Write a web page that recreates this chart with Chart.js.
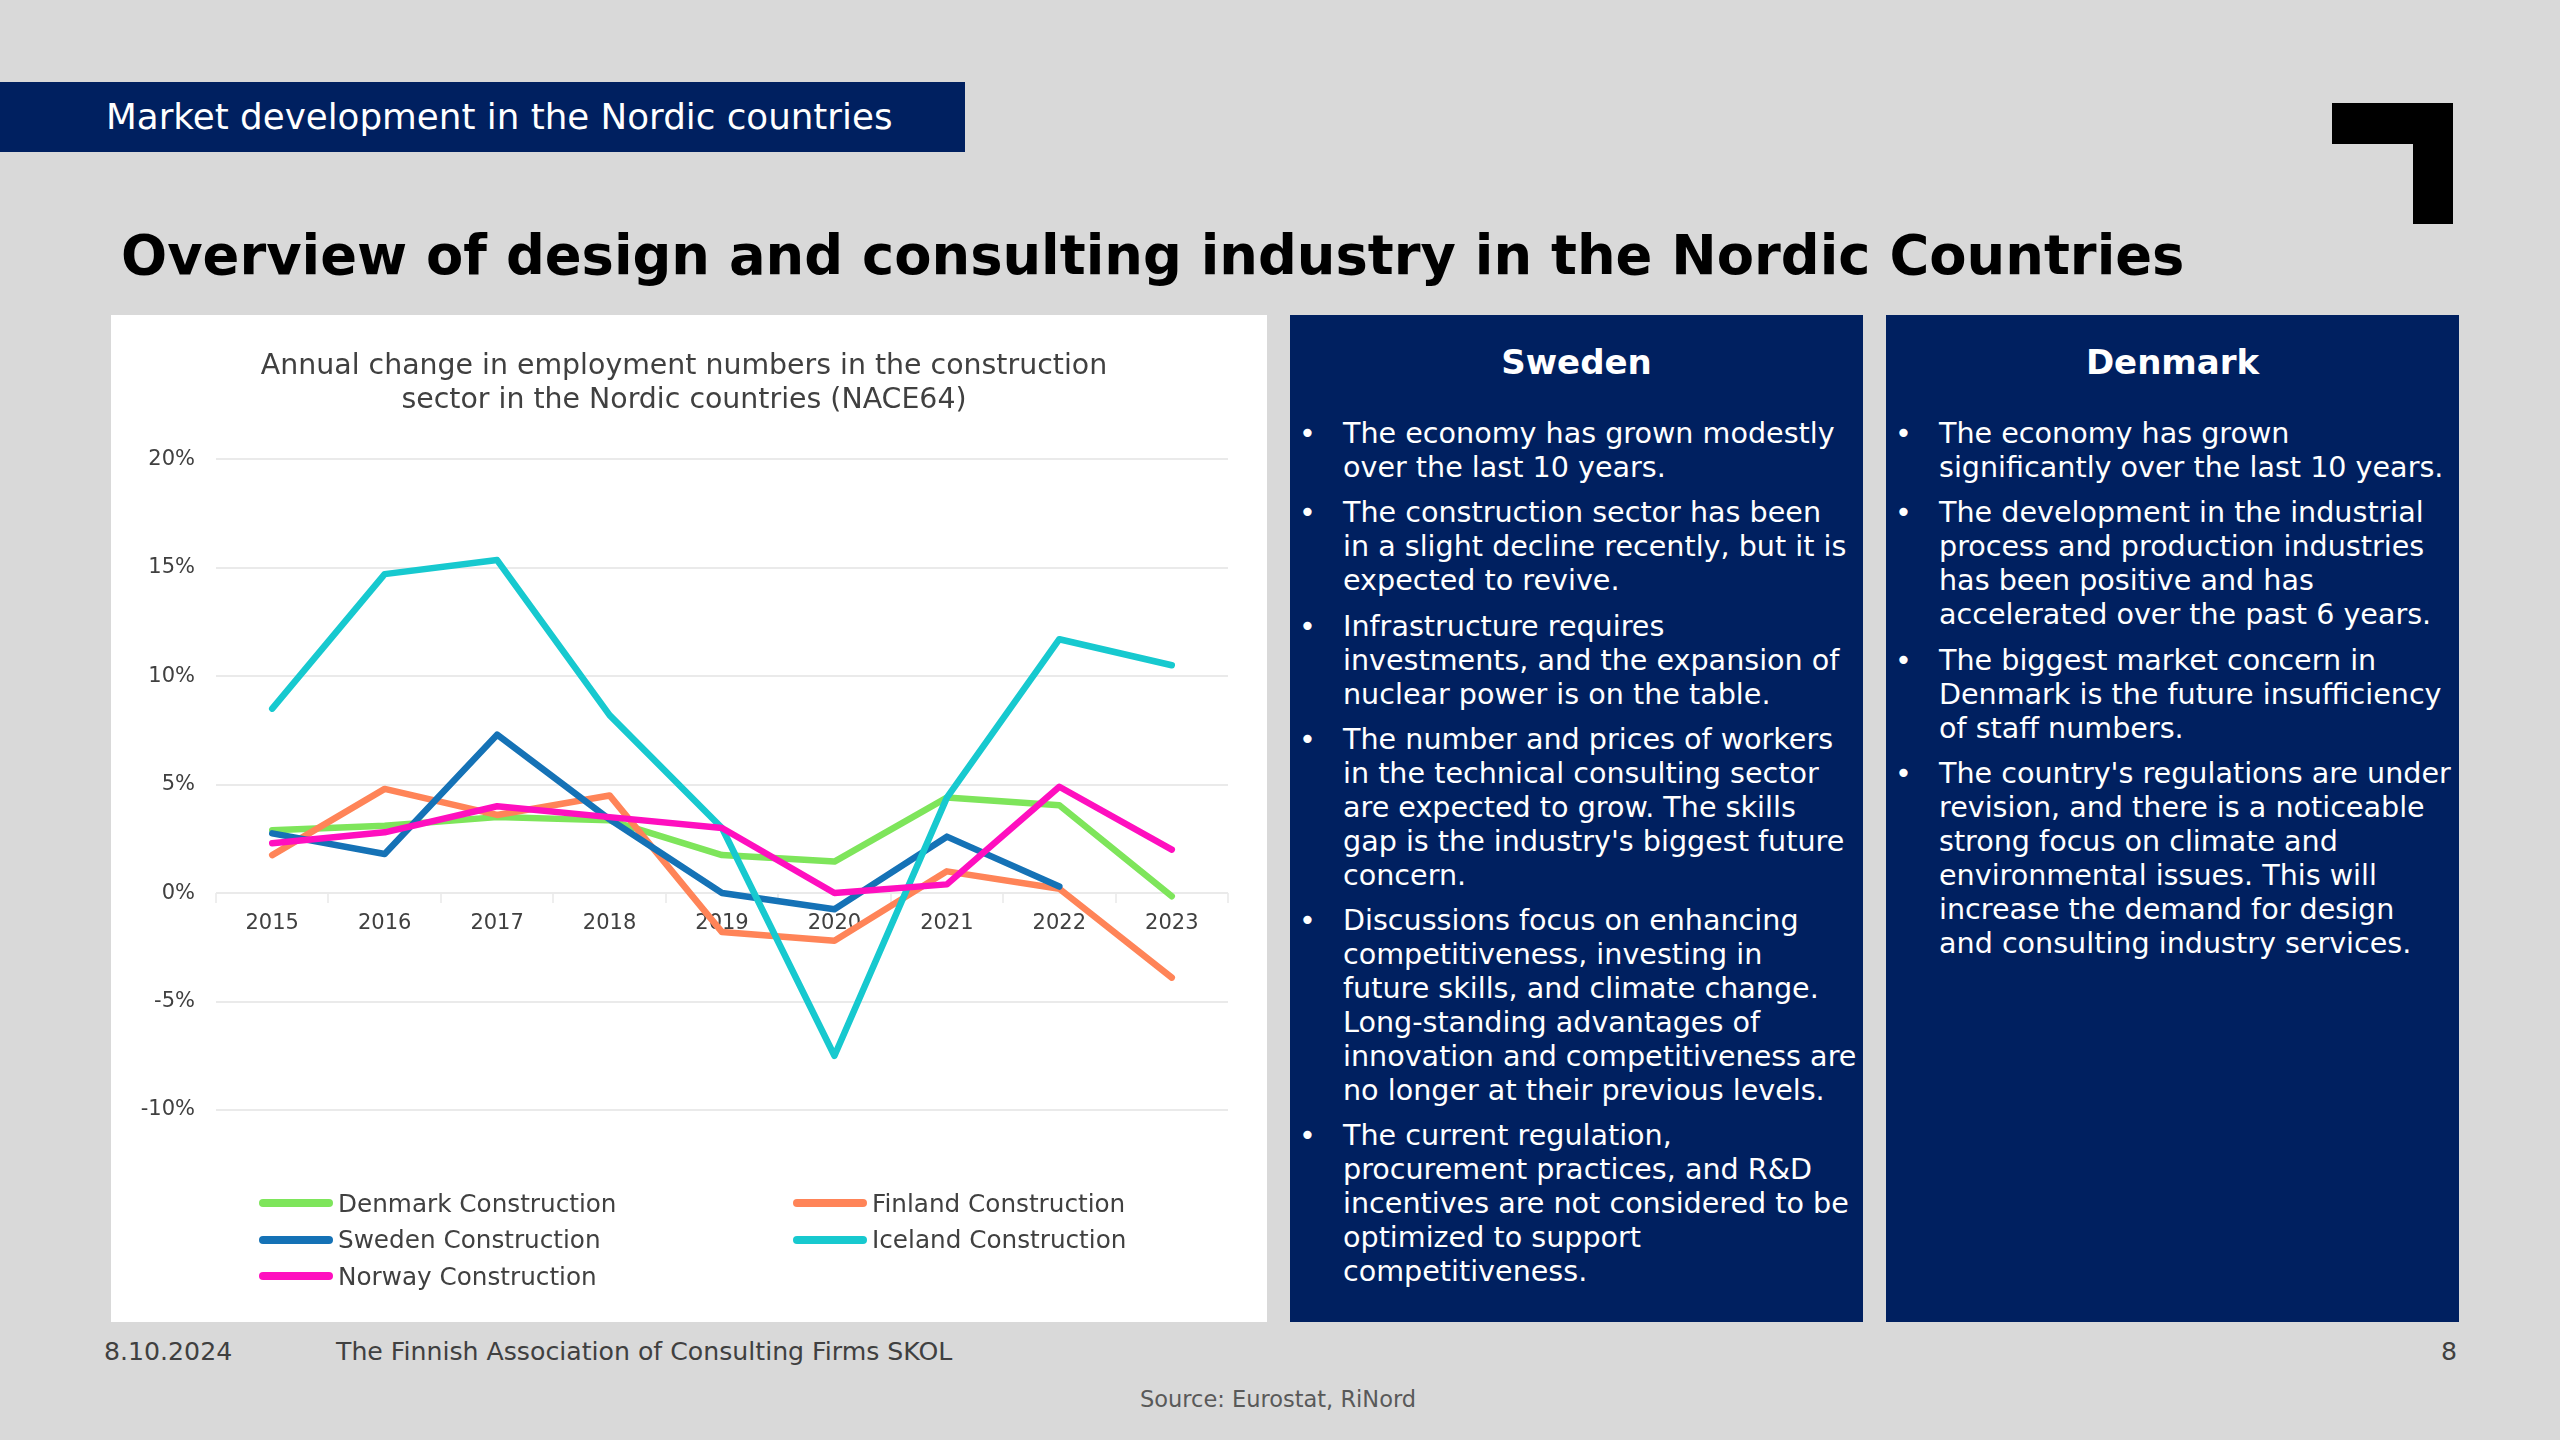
<!DOCTYPE html>
<html>
<head>
<meta charset="utf-8">
<title>Market development in the Nordic countries</title>
<script src="https://cdn.jsdelivr.net/npm/chart.js@4.4.1/dist/chart.umd.min.js"></script>
<style>
  body {
    margin: 0;
    width: 2560px;
    height: 1440px;
    position: relative;
    overflow: hidden;
    background: #d9d9d9;
    font-family: "DejaVu Sans", sans-serif;
  }
  .abs { position: absolute; }
  #banner { left: 0; top: 82px; width: 965px; height: 70px; background: #002060; color: #fff; font-size: 35.7px; line-height: 70px; }
  #banner span { position: absolute; left: 106px; white-space: nowrap; }
  #title { left: 121px; top: 224px; font-size: 54.3px; font-weight: bold; line-height: 64px; color: #000; white-space: nowrap; }
  .mark { background: #000; }
  #chart-box { left: 111px; top: 315px; width: 1156px; height: 1007px; background: #fff; }
  #chart-wrap { position: absolute; left: 0; top: 0; width: 1142px; height: 1007px; }
  #legend { position: absolute; left: 148px; top: 870px; display: grid; grid-template-columns: 534px 534px; grid-auto-rows: 36.5px; }
  .legend-item { display: flex; align-items: center; font-size: 24.7px; color: #404040; white-space: nowrap; }
  .swatch { width: 74px; height: 8px; border-radius: 4px; margin-right: 5px; }
  .panel { top: 315px; width: 573px; height: 1007px; background: #002060; color: #fff; }
  .panel h2 { position: absolute; left: 0; right: 0; top: 27px; margin: 0; font-size: 34px; line-height: 40px; text-align: center; }
  .panel ul { position: absolute; left: 53px; top: 101px; margin: 0; padding: 0; list-style: none; font-size: 28.6px; line-height: 34px; white-space: nowrap; }
  .panel li { position: relative; margin-bottom: 11.3px; }
  .panel li::before { content: "\2022"; position: absolute; left: -44px; }
  .foot { top: 1334px; font-size: 25.2px; line-height: 36px; color: #404040; white-space: nowrap; }
</style>
</head>
<body>
  <div id="banner" class="abs"><span>Market development in the Nordic countries</span></div>
  <div class="abs mark" style="left:2332px; top:103px; width:121px; height:41px;"></div>
  <div class="abs mark" style="left:2413px; top:103px; width:40px; height:121px;"></div>
  <div id="title" class="abs">Overview of design and consulting industry in the Nordic Countries</div>

  <div id="chart-box" class="abs">
    <div id="chart-wrap"><canvas id="chart-box-canvas"></canvas></div>
    <div id="legend"></div>
  </div>

  <div class="abs panel" style="left:1290px;">
    <h2>Sweden</h2>
    <ul>
      <li>The economy has grown modestly<br>over the last 10 years.</li>
      <li>The construction sector has been<br>in a slight decline recently, but it is<br>expected to revive.</li>
      <li>Infrastructure requires<br>investments, and the expansion of<br>nuclear power is on the table.</li>
      <li>The number and prices of workers<br>in the technical consulting sector<br>are expected to grow. The skills<br>gap is the industry's biggest future<br>concern.</li>
      <li>Discussions focus on enhancing<br>competitiveness, investing in<br>future skills, and climate change.<br>Long-standing advantages of<br>innovation and competitiveness are<br>no longer at their previous levels.</li>
      <li>The current regulation,<br>procurement practices, and R&amp;D<br>incentives are not considered to be<br>optimized to support<br>competitiveness.</li>
    </ul>
  </div>

  <div class="abs panel" style="left:1886px;">
    <h2>Denmark</h2>
    <ul>
      <li>The economy has grown<br>significantly over the last 10 years.</li>
      <li>The development in the industrial<br>process and production industries<br>has been positive and has<br>accelerated over the past 6 years.</li>
      <li>The biggest market concern in<br>Denmark is the future insufficiency<br>of staff numbers.</li>
      <li>The country's regulations are under<br>revision, and there is a noticeable<br>strong focus on climate and<br>environmental issues. This will<br>increase the demand for design<br>and consulting industry services.</li>
    </ul>
  </div>

  <div class="abs foot" style="left:104px;">8.10.2024</div>
  <div class="abs foot" style="left:336px;">The Finnish Association of Consulting Firms SKOL</div>
  <div class="abs foot" style="right:103px;">8</div>
  <div class="abs foot" style="left:0; width:2556px; top:1381px; font-size:22.5px; text-align:center; color:#595959;">Source: Eurostat, RiNord</div>

<script>
const years = ["2015", "2016", "2017", "2018", "2019", "2020", "2021", "2022", "2023"];

// annual change, %
const denmark = [2.9, 3.1, 3.5, 3.35, 1.75, 1.45, 4.4, 4.05, -0.15];
const finland = [1.75, 4.8, 3.6, 4.5, -1.8, -2.2, 1.0, 0.2, -3.9];
const sweden = [2.75, 1.8, 7.3, 3.4, 0.0, -0.75, 2.6, 0.3, null];
const iceland = [8.5, 14.7, 15.35, 8.2, 3.0, -7.5, 4.4, 11.7, 10.5];
const norway = [2.3, 2.8, 4.0, 3.5, 3.0, 0.0, 0.4, 4.9, 2.0];

const seriesNames = ["Denmark Construction", "Finland Construction", "Sweden Construction", "Iceland Construction", "Norway Construction"];
const seriesColors = ["#7ee55b", "#ff8458", "#1572b6", "#17c9cf", "#ff0fbf"];
const seriesData = [denmark, finland, sweden, iceland, norway];

const chartTitle = ["Annual change in employment numbers in the construction", "sector in the Nordic countries (NACE64)"];
const yTicks = { min: -10, max: 20, step: 5 };

Chart.defaults.font.family = "'DejaVu Sans', sans-serif";
Chart.defaults.color = "#404040";

// legend as html so the two columns line up like the slide
const htmlLegend = {
  id: "htmlLegend",
  afterUpdate(chart) {
    const box = document.getElementById("legend");
    box.innerHTML = "";
    const items = chart.options.plugins.legend.labels.generateLabels(chart);
    items.sort((a, b) => a.datasetIndex - b.datasetIndex).forEach(item => {
      const div = document.createElement("div");
      div.className = "legend-item";
      const sw = document.createElement("span");
      sw.className = "swatch";
      sw.style.background = item.strokeStyle;
      div.appendChild(sw);
      div.appendChild(document.createTextNode(item.text));
      box.appendChild(div);
    });
  },
};

function buildDatasets() {
  return seriesNames.map((name, i) => ({
    label: name,
    data: seriesData[i],
    borderColor: seriesColors[i],
    backgroundColor: seriesColors[i],
    borderWidth: 6.5,
    pointRadius: 0,
    tension: 0,
    borderCapStyle: "round",
    borderJoinStyle: "round",
    order: seriesNames.length - i,
  }));
}

const ctx = document.getElementById("chart-box-canvas").getContext("2d");
const chart = new Chart(ctx, {
  type: "line",
  data: {
    labels: years,
    datasets: buildDatasets(),
  },
  options: {
    responsive: true,
    maintainAspectRatio: false,
    animation: false,
    layout: {
      padding: { left: 29, right: 25, top: 0, bottom: 212 },
    },
    plugins: {
      legend: { display: false },
      tooltip: { enabled: false },
      title: {
        display: true,
        text: chartTitle,
        color: "#404040",
        font: { size: 28.4, weight: "normal", lineHeight: 1.2 },
        padding: { top: 35, bottom: 41 },
      },
    },
    scales: {
      x: {
        type: "category",
        offset: true,
        position: { y: 0 },
        grid: {
          display: true,
          offset: true,
          drawOnChartArea: false,
          drawTicks: true,
          tickLength: 10,
          color: "#eeeeee",
          lineWidth: 2,
        },
        border: { display: false },
        ticks: {
          padding: 8,
          maxRotation: 0,
          color: "#404040",
          font: { size: 21 },
        },
      },
      y: {
        min: yTicks.min,
        max: yTicks.max,
        afterFit(scale) {
          scale.width = 76;
        },
        grid: {
          color: "#eaeaea",
          lineWidth: 2,
          drawTicks: false,
        },
        border: { display: false },
        ticks: {
          stepSize: yTicks.step,
          padding: 21,
          color: "#404040",
          font: { size: 21 },
          callback: value => value + "%",
        },
      },
    },
  },
  plugins: [htmlLegend],
});
</script>
</body>
</html>
